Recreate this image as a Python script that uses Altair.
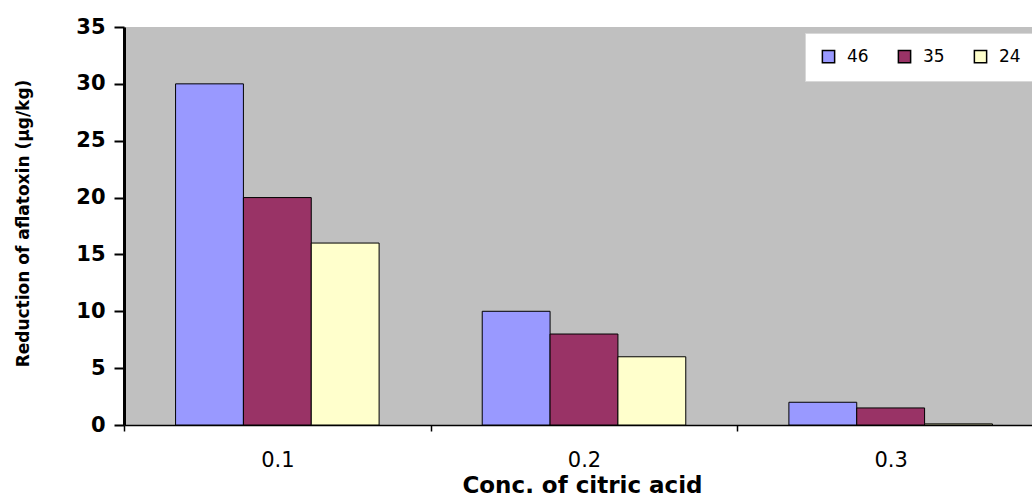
import altair as alt
import pandas as pd

# Aflatoxin reduction by citric acid concentration and temperature
concentrations = ["0.1", "0.2", "0.3"]
series = ["46", "35", "24"]
values_46 = [30, 10, 2]
values_35 = [20, 8, 1.5]
values_24 = [16, 6, 0.1]

colors = ["#9999FF", "#993366", "#FFFFCC"]

rows = []
for name, vals in zip(series, [values_46, values_35, values_24]):
    for conc, v in zip(concentrations, vals):
        rows.append({"conc": conc, "series": name, "value": v})
df = pd.DataFrame(rows)

bars = alt.Chart(df).mark_bar(stroke="black", strokeWidth=1).encode(
    x=alt.X(
        "conc:N",
        sort=concentrations,
        scale=alt.Scale(paddingInner=0, paddingOuter=0, range=[0, 920]),
        axis=alt.Axis(
            title="Conc. of citric acid",
            labelAngle=0,
            tickBand="extent",
            domainColor="black",
            domainWidth=1.5,
            tickColor="black",
            tickWidth=1.5,
            tickSize=6,
            labelPadding=18,
            labelFont="DejaVu Sans",
            labelFontSize=21,
            labelColor="black",
            titleFont="DejaVu Sans",
            titleFontSize=23,
            titleFontWeight="bold",
            titleColor="black",
            titleBaseline="alphabetic",
            titleX=458,
            titleY=67,
        ),
    ),
    xOffset=alt.XOffset(
        "series:N",
        sort=series,
        scale=alt.Scale(paddingInner=0, paddingOuter=0.76),
    ),
    y=alt.Y(
        "value:Q",
        scale=alt.Scale(domain=[0, 35], nice=False),
        axis=alt.Axis(
            title="Reduction of aflatoxin (µg/kg)",
            values=[0, 5, 10, 15, 20, 25, 30, 35],
            grid=False,
            domainColor="black",
            domainWidth=3,
            tickColor="black",
            tickWidth=2,
            tickSize=10,
            labelPadding=9,
            labelFont="DejaVu Sans",
            labelFontSize=21,
            labelFontWeight="bold",
            labelColor="black",
            titleFont="DejaVu Sans",
            titleFontSize=17,
            titleFontWeight="bold",
            titleColor="black",
            titleBaseline="middle",
            titleX=-101,
            titleY=196,
        ),
    ),
    color=alt.Color(
        "series:N",
        sort=series,
        scale=alt.Scale(domain=series, range=colors),
        legend=alt.Legend(
            title=None,
            orient="none",
            direction="horizontal",
            legendX=681,
            legendY=6,
            fillColor="white",
            strokeColor="#d8d8d8",
            padding=15,
            symbolType="square",
            symbolSize=150,
            symbolStrokeColor="black",
            symbolStrokeWidth=1.5,
            labelFont="DejaVu Sans",
            labelFontSize=17,
            labelColor="black",
            labelOffset=10,
            columnPadding=26,
        ),
    ),
)

chart = bars.properties(
    width=908,
    height=398,
    autosize=alt.AutoSizeParams(type="none"),
    padding={"left": 124, "top": 27, "right": 0, "bottom": 74},
    background="white",
).configure_view(fill="#C0C0C0", stroke=None)

chart.save("out.html", embed_options={"renderer": "svg", "actions": False})
